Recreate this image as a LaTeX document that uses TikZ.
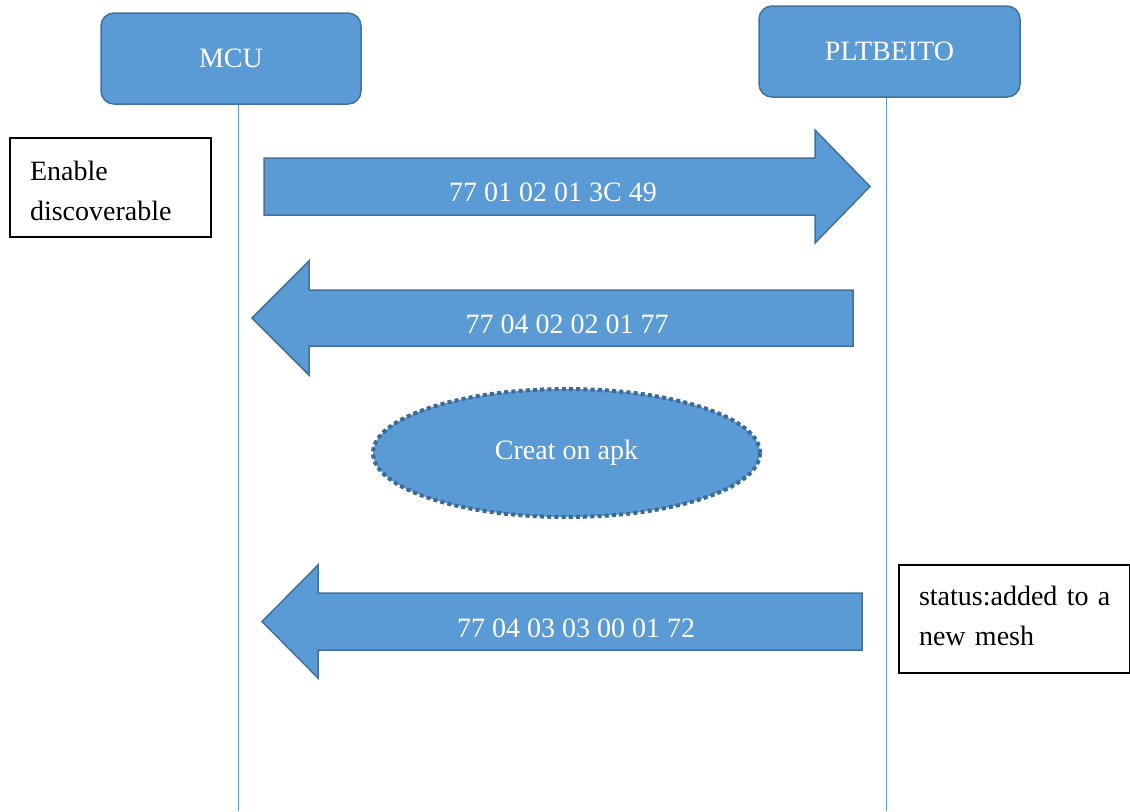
\documentclass[tikz,border=0pt]{standalone}
\usepackage{fontspec}
\setmainfont{Liberation Serif}
\usetikzlibrary{shapes.geometric}
\definecolor{officeblue}{HTML}{5B9BD5}
\definecolor{officeedge}{HTML}{41719C}
\definecolor{dotedge}{HTML}{3B6A98}

\begin{document}
\begin{tikzpicture}[
    x=0.5pt, y=-0.5pt,
    font=\fontsize{14}{20}\selectfont,
    party/.style={draw=officeedge, fill=officeblue, line width=0.75pt, rounded corners=6.5pt,
      text=white, minimum width=130pt, minimum height=45.5pt, inner sep=0pt},
    life/.style={draw=officeblue, line width=0.5pt},
    blockarrow/.style={draw=officeedge, fill=officeblue, line width=0.75pt},
    msg/.style={text=white, inner sep=0pt},
    note/.style={draw=black, line width=0.6pt, align=left, inner xsep=10pt, inner ysep=0pt}]
  \useasboundingbox (0,0) rectangle (1130,811);
  % participants
  \node[party] (mcu) at (231,58.5) {MCU};
  \node[party, minimum width=130.5pt] (plt) at (889.5,51.5) {PLTBEITO};
  \coordinate (mcuend) at (238,811);
  \coordinate (pltend) at (886,811);
  \draw[life] (mcu.south -| mcuend) -- (mcuend);
  \draw[life] (plt.south -| pltend) -- (pltend);
  % messages
  \draw[blockarrow] (264,158) -- (815,158) -- (815,130) -- (870,186.5) -- (815,243) -- (815,215) -- (264,215) -- cycle;
  \node[msg] (m1) at (553,192) {77 01 02 01 3C 49};
  \draw[blockarrow] (853,290) -- (309,290) -- (309,261) -- (252,318) -- (309,375) -- (309,346) -- (853,346) -- cycle;
  \node[msg] (m2) at (567,324) {77 04 02 02 01 77};
  \node[ellipse, draw=dotedge, fill=officeblue, line width=2pt, dash pattern=on 2pt off 1.6pt,
    minimum width=193.5pt, minimum height=64pt, text=white] (apk) at (566.5,453) {Creat on apk};
  \draw[blockarrow] (862,593) -- (318,593) -- (318,565) -- (262,621.5) -- (318,678) -- (318,650) -- (862,650) -- cycle;
  \node[msg] (m3) at (576,628) {77 04 03 03 00 01 72};
  % notes
  \node[note, text width=80.5pt, minimum height=49.5pt] (disc) at (110.5,187.5) {\rule{0pt}{13pt}Enable\\discoverable};
  \node[note, text width=95.5pt, minimum height=54pt] (mesh) at (1014.5,619) {\mbox{status:added to a}\\new mesh\rule[-3pt]{0pt}{3pt}};
\end{tikzpicture}
\end{document}
